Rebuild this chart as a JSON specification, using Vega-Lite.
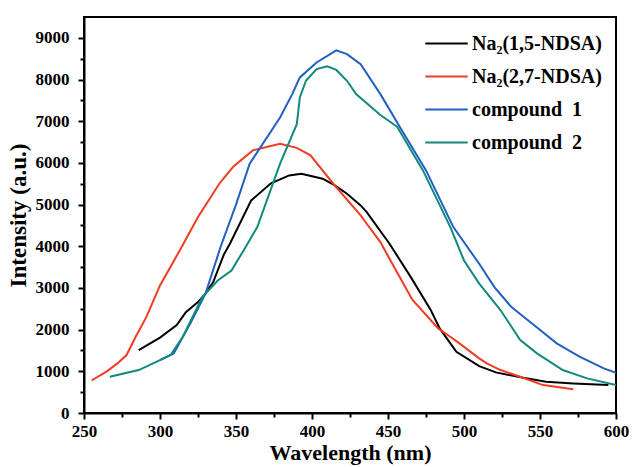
{
  "$schema": "https://vega.github.io/schema/vega-lite/v6.json",
  "width": 532,
  "height": 396,
  "autosize": {"type": "none"},
  "padding": {"left": 84, "top": 17, "right": 16, "bottom": 54},
  "background": "white",
  "config": {
    "view": {"stroke": "black", "strokeWidth": 2},
    "font": "Liberation Serif"
  },
  "data": {
    "values": [
      {"s": "Na₂(1,5-NDSA)", "wl": 286, "v": 1510},
      {"s": "Na₂(1,5-NDSA)", "wl": 300, "v": 1810},
      {"s": "Na₂(1,5-NDSA)", "wl": 311, "v": 2110},
      {"s": "Na₂(1,5-NDSA)", "wl": 317, "v": 2420},
      {"s": "Na₂(1,5-NDSA)", "wl": 325, "v": 2660},
      {"s": "Na₂(1,5-NDSA)", "wl": 330, "v": 2870},
      {"s": "Na₂(1,5-NDSA)", "wl": 335, "v": 3140},
      {"s": "Na₂(1,5-NDSA)", "wl": 342, "v": 3800},
      {"s": "Na₂(1,5-NDSA)", "wl": 346, "v": 4060},
      {"s": "Na₂(1,5-NDSA)", "wl": 360, "v": 5100},
      {"s": "Na₂(1,5-NDSA)", "wl": 373, "v": 5510},
      {"s": "Na₂(1,5-NDSA)", "wl": 385, "v": 5700},
      {"s": "Na₂(1,5-NDSA)", "wl": 393, "v": 5740},
      {"s": "Na₂(1,5-NDSA)", "wl": 407, "v": 5620},
      {"s": "Na₂(1,5-NDSA)", "wl": 415, "v": 5460},
      {"s": "Na₂(1,5-NDSA)", "wl": 423, "v": 5260},
      {"s": "Na₂(1,5-NDSA)", "wl": 432, "v": 4980},
      {"s": "Na₂(1,5-NDSA)", "wl": 436, "v": 4820},
      {"s": "Na₂(1,5-NDSA)", "wl": 451, "v": 4060},
      {"s": "Na₂(1,5-NDSA)", "wl": 465, "v": 3260},
      {"s": "Na₂(1,5-NDSA)", "wl": 478, "v": 2480},
      {"s": "Na₂(1,5-NDSA)", "wl": 484, "v": 2030},
      {"s": "Na₂(1,5-NDSA)", "wl": 495, "v": 1470},
      {"s": "Na₂(1,5-NDSA)", "wl": 510, "v": 1125},
      {"s": "Na₂(1,5-NDSA)", "wl": 521, "v": 975},
      {"s": "Na₂(1,5-NDSA)", "wl": 539, "v": 845},
      {"s": "Na₂(1,5-NDSA)", "wl": 554, "v": 750},
      {"s": "Na₂(1,5-NDSA)", "wl": 572, "v": 710},
      {"s": "Na₂(1,5-NDSA)", "wl": 595, "v": 670},

      {"s": "Na₂(2,7-NDSA)", "wl": 255, "v": 780},
      {"s": "Na₂(2,7-NDSA)", "wl": 265, "v": 1000},
      {"s": "Na₂(2,7-NDSA)", "wl": 272, "v": 1190},
      {"s": "Na₂(2,7-NDSA)", "wl": 278, "v": 1390},
      {"s": "Na₂(2,7-NDSA)", "wl": 284, "v": 1830},
      {"s": "Na₂(2,7-NDSA)", "wl": 291, "v": 2300},
      {"s": "Na₂(2,7-NDSA)", "wl": 300, "v": 3060},
      {"s": "Na₂(2,7-NDSA)", "wl": 313, "v": 3900},
      {"s": "Na₂(2,7-NDSA)", "wl": 325, "v": 4700},
      {"s": "Na₂(2,7-NDSA)", "wl": 339, "v": 5500},
      {"s": "Na₂(2,7-NDSA)", "wl": 348, "v": 5900},
      {"s": "Na₂(2,7-NDSA)", "wl": 361, "v": 6300},
      {"s": "Na₂(2,7-NDSA)", "wl": 379, "v": 6460},
      {"s": "Na₂(2,7-NDSA)", "wl": 390, "v": 6360},
      {"s": "Na₂(2,7-NDSA)", "wl": 399, "v": 6180},
      {"s": "Na₂(2,7-NDSA)", "wl": 414, "v": 5500},
      {"s": "Na₂(2,7-NDSA)", "wl": 432, "v": 4740},
      {"s": "Na₂(2,7-NDSA)", "wl": 436, "v": 4540},
      {"s": "Na₂(2,7-NDSA)", "wl": 445, "v": 4100},
      {"s": "Na₂(2,7-NDSA)", "wl": 451, "v": 3700},
      {"s": "Na₂(2,7-NDSA)", "wl": 466, "v": 2720},
      {"s": "Na₂(2,7-NDSA)", "wl": 483, "v": 2030},
      {"s": "Na₂(2,7-NDSA)", "wl": 491, "v": 1830},
      {"s": "Na₂(2,7-NDSA)", "wl": 497, "v": 1670},
      {"s": "Na₂(2,7-NDSA)", "wl": 510, "v": 1310},
      {"s": "Na₂(2,7-NDSA)", "wl": 515, "v": 1190},
      {"s": "Na₂(2,7-NDSA)", "wl": 524, "v": 1030},
      {"s": "Na₂(2,7-NDSA)", "wl": 537, "v": 870},
      {"s": "Na₂(2,7-NDSA)", "wl": 552, "v": 670},
      {"s": "Na₂(2,7-NDSA)", "wl": 572, "v": 570},

      {"s": "compound\u00a0\u00a01", "wl": 300, "v": 1270},
      {"s": "compound\u00a0\u00a01", "wl": 309, "v": 1430},
      {"s": "compound\u00a0\u00a01", "wl": 320, "v": 2150},
      {"s": "compound\u00a0\u00a01", "wl": 330, "v": 2870},
      {"s": "compound\u00a0\u00a01", "wl": 340, "v": 4000},
      {"s": "compound\u00a0\u00a01", "wl": 350, "v": 5000},
      {"s": "compound\u00a0\u00a01", "wl": 359, "v": 5980},
      {"s": "compound\u00a0\u00a01", "wl": 379, "v": 7090},
      {"s": "compound\u00a0\u00a01", "wl": 387, "v": 7650},
      {"s": "compound\u00a0\u00a01", "wl": 392, "v": 8050},
      {"s": "compound\u00a0\u00a01", "wl": 403, "v": 8410},
      {"s": "compound\u00a0\u00a01", "wl": 416, "v": 8700},
      {"s": "compound\u00a0\u00a01", "wl": 423, "v": 8610},
      {"s": "compound\u00a0\u00a01", "wl": 432, "v": 8370},
      {"s": "compound\u00a0\u00a01", "wl": 445, "v": 7650},
      {"s": "compound\u00a0\u00a01", "wl": 458, "v": 6850},
      {"s": "compound\u00a0\u00a01", "wl": 475, "v": 5820},
      {"s": "compound\u00a0\u00a01", "wl": 493, "v": 4460},
      {"s": "compound\u00a0\u00a01", "wl": 510, "v": 3580},
      {"s": "compound\u00a0\u00a01", "wl": 520, "v": 3020},
      {"s": "compound\u00a0\u00a01", "wl": 531, "v": 2550},
      {"s": "compound\u00a0\u00a01", "wl": 546, "v": 2110},
      {"s": "compound\u00a0\u00a01", "wl": 561, "v": 1670},
      {"s": "compound\u00a0\u00a01", "wl": 576, "v": 1350},
      {"s": "compound\u00a0\u00a01", "wl": 592, "v": 1070},
      {"s": "compound\u00a0\u00a01", "wl": 600, "v": 965},

      {"s": "compound\u00a0\u00a02", "wl": 267, "v": 870},
      {"s": "compound\u00a0\u00a02", "wl": 286, "v": 1030},
      {"s": "compound\u00a0\u00a02", "wl": 300, "v": 1270},
      {"s": "compound\u00a0\u00a02", "wl": 307, "v": 1390},
      {"s": "compound\u00a0\u00a02", "wl": 315, "v": 1830},
      {"s": "compound\u00a0\u00a02", "wl": 328, "v": 2790},
      {"s": "compound\u00a0\u00a02", "wl": 338, "v": 3180},
      {"s": "compound\u00a0\u00a02", "wl": 347, "v": 3420},
      {"s": "compound\u00a0\u00a02", "wl": 355, "v": 3900},
      {"s": "compound\u00a0\u00a02", "wl": 364, "v": 4460},
      {"s": "compound\u00a0\u00a02", "wl": 379, "v": 5980},
      {"s": "compound\u00a0\u00a02", "wl": 390, "v": 6930},
      {"s": "compound\u00a0\u00a02", "wl": 392, "v": 7570},
      {"s": "compound\u00a0\u00a02", "wl": 396, "v": 7970},
      {"s": "compound\u00a0\u00a02", "wl": 403, "v": 8250},
      {"s": "compound\u00a0\u00a02", "wl": 410, "v": 8315},
      {"s": "compound\u00a0\u00a02", "wl": 416, "v": 8230},
      {"s": "compound\u00a0\u00a02", "wl": 423, "v": 7970},
      {"s": "compound\u00a0\u00a02", "wl": 429, "v": 7650},
      {"s": "compound\u00a0\u00a02", "wl": 445, "v": 7150},
      {"s": "compound\u00a0\u00a02", "wl": 456, "v": 6870},
      {"s": "compound\u00a0\u00a02", "wl": 473, "v": 5820},
      {"s": "compound\u00a0\u00a02", "wl": 491, "v": 4460},
      {"s": "compound\u00a0\u00a02", "wl": 500, "v": 3660},
      {"s": "compound\u00a0\u00a02", "wl": 510, "v": 3105},
      {"s": "compound\u00a0\u00a02", "wl": 524, "v": 2470},
      {"s": "compound\u00a0\u00a02", "wl": 537, "v": 1750},
      {"s": "compound\u00a0\u00a02", "wl": 548, "v": 1430},
      {"s": "compound\u00a0\u00a02", "wl": 565, "v": 1030},
      {"s": "compound\u00a0\u00a02", "wl": 581, "v": 830},
      {"s": "compound\u00a0\u00a02", "wl": 600, "v": 670}
    ]
  },
  "mark": {"type": "line", "strokeWidth": 2, "clip": true},
  "encoding": {
    "x": {
      "field": "wl",
      "type": "quantitative",
      "scale": {"domain": [250, 600], "nice": false, "zero": false},
      "axis": {
        "title": "Wavelength (nm)",
        "values": [250, 275, 300, 325, 350, 375, 400, 425, 450, 475, 500, 525, 550, 575, 600],
        "labelExpr": "datum.value % 50 === 0 ? datum.label : ''",
        "grid": false,
        "domainColor": "black",
        "domainWidth": 2,
        "tickColor": "black",
        "tickWidth": 2,
        "tickSize": {"condition": {"test": "datum.value % 50 === 0", "value": 6}, "value": 4},
        "labelFont": "Liberation Serif",
        "labelFontSize": 17,
        "labelFontWeight": "bold",
        "labelColor": "black",
        "labelPadding": 4,
        "labelFlush": false,
        "labelOverlap": false,
        "titleFont": "Liberation Serif",
        "titleFontSize": 22,
        "titleFontWeight": "bold",
        "titleColor": "black",
        "titlePadding": 3
      }
    },
    "y": {
      "field": "v",
      "type": "quantitative",
      "scale": {"domain": [0, 9500], "nice": false},
      "axis": {
        "title": "Intensity (a.u.)",
        "values": [0, 500, 1000, 1500, 2000, 2500, 3000, 3500, 4000, 4500, 5000, 5500, 6000, 6500, 7000, 7500, 8000, 8500, 9000],
        "format": "d",
        "labelExpr": "datum.value % 1000 === 0 ? datum.label : ''",
        "grid": false,
        "domainColor": "black",
        "domainWidth": 2,
        "tickColor": "black",
        "tickWidth": 2,
        "tickSize": {"condition": {"test": "datum.value % 1000 === 0", "value": 6}, "value": 4},
        "labelFont": "Liberation Serif",
        "labelFontSize": 17,
        "labelFontWeight": "bold",
        "labelColor": "black",
        "labelPadding": 9,
        "labelOverlap": false,
        "titleFont": "Liberation Serif",
        "titleFontSize": 23,
        "titleFontWeight": "bold",
        "titleColor": "black",
        "titlePadding": 5
      }
    },
    "color": {
      "field": "s",
      "type": "nominal",
      "scale": {
        "domain": ["Na₂(1,5-NDSA)", "Na₂(2,7-NDSA)", "compound\u00a0\u00a01", "compound\u00a0\u00a02"],
        "range": ["#000000", "#f03c24", "#2060c0", "#108a7c"]
      },
      "legend": {
        "title": null,
        "orient": "none",
        "legendX": 340,
        "legendY": 4,
        "symbolType": "stroke",
        "symbolSize": 1800,
        "symbolStrokeWidth": 2,
        "labelFont": "Liberation Serif",
        "labelFontSize": 20,
        "labelFontWeight": "bold",
        "labelColor": "black",
        "labelOffset": 3,
        "rowPadding": -5,
        "labelLimit": 300
      }
    }
  }
}
